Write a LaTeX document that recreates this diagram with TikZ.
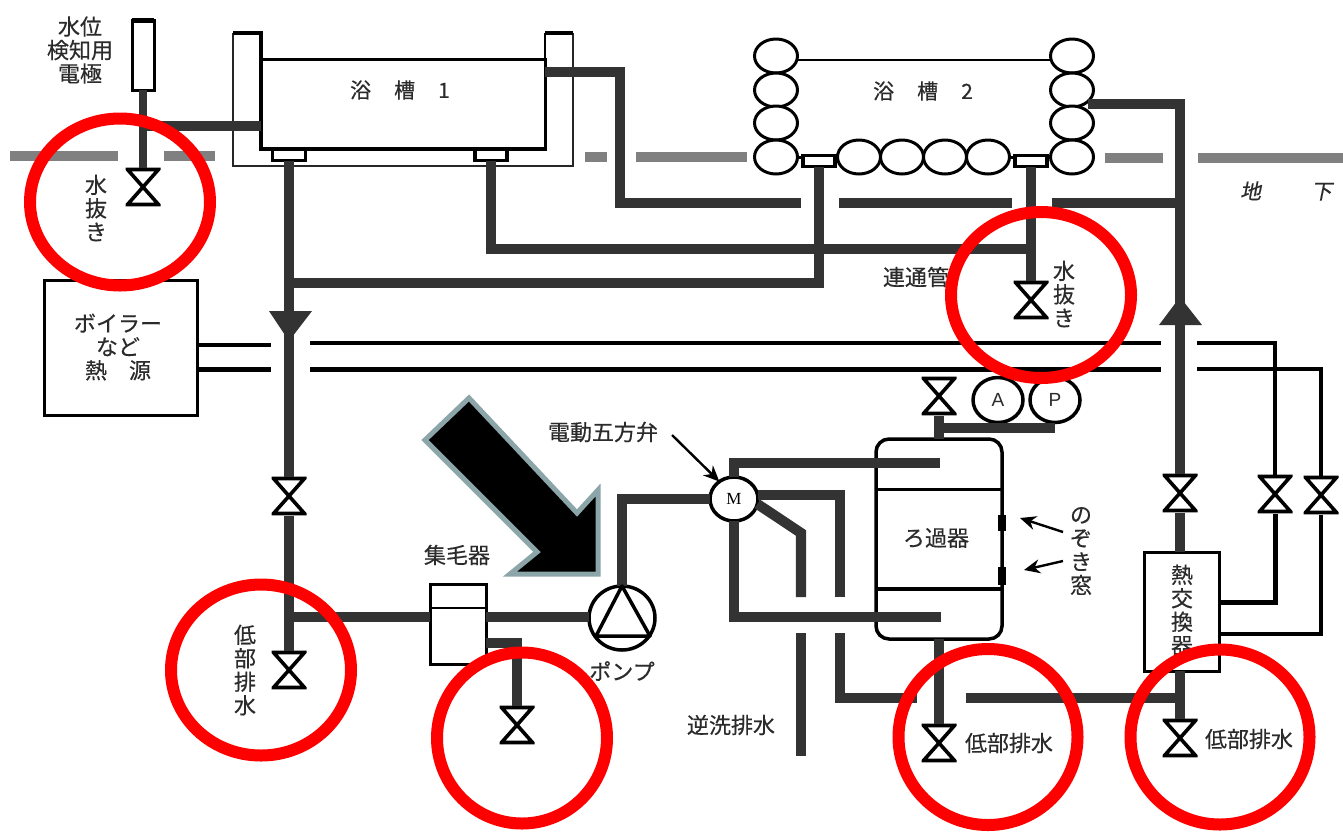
\documentclass[tikz,border=0pt]{standalone}
\usepackage{fontspec}
\setmainfont[FakeBold=0.4]{Noto Sans CJK JP}
\newfontfamily\slantcjk[FakeSlant=0.2,FakeBold=0.4]{Noto Sans CJK JP}
\newfontfamily\latinsans{Liberation Sans}
\newfontfamily\latinserif{Liberation Serif}
\usetikzlibrary{shapes.geometric,arrows.meta}
\definecolor{pipegray}{HTML}{333333}
\definecolor{groundgray}{HTML}{808080}
\definecolor{arrowedge}{HTML}{8CA5A8}
\definecolor{inkgray}{HTML}{2B2B2B}
\tikzset{
  every node/.append style={outer sep=0pt},
  pipe/.style={draw=pipegray,line width=10.2pt,line cap=butt,line join=miter},
  thinpipe/.style={pipe,line width=8.5pt},
  hotline/.style={draw=black,line width=3.5pt,line join=miter},
  hotlinethick/.style={draw=black,line width=5pt,line join=miter},
  ground/.style={draw=groundgray,line width=10pt},
  outline/.style={draw=black,line width=3pt,fill=white,inner sep=0pt},
  label/.style={font=\fontsize{22}{23.5}\selectfont,text=inkgray,inner sep=0pt,align=center},
  redring/.style={draw=red,line width=12pt,ellipse,inner sep=0pt,fill=none},
  ringcell/.style={ellipse,draw=black,line width=3pt,fill=white,minimum width=43pt,minimum height=34pt,inner sep=0pt},
  gauge/.style={ellipse,draw=black,line width=3.5pt,fill=white,minimum width=50pt,minimum height=45pt,inner sep=0pt},
  drainbox/.style={rectangle,draw=black,line width=3.5pt,fill=white,minimum width=32pt,minimum height=11pt,inner sep=0pt},
  valvebody/.style={minimum width=35pt,minimum height=39pt,inner sep=0pt,
    path picture={\draw[black,line width=3.6pt,line join=miter,fill=white]
      ([shift={(2,2)}]path picture bounding box.north west) --
      ([shift={(-2,2)}]path picture bounding box.north east) --
      ([shift={(2,-2)}]path picture bounding box.south west) --
      ([shift={(-2,-2)}]path picture bounding box.south east) -- cycle;}},
  leader/.style={draw=black,line width=2.4pt,-{Stealth[length=16pt,width=14pt]}},
  bigarrow/.style={draw=arrowedge,line width=5pt,fill=black,line join=miter},
  flowhead/.style={fill=pipegray,draw=none}
}
\begin{document}
\begin{tikzpicture}[x=1pt,y=-1pt]
\useasboundingbox (0,0) rectangle (1343,831);
\fill[white] (0,0) rectangle (1343,831);

% ground line
\foreach \a/\b/\yy in {10/118/156,164/215/156,585/607/157,636/747/157,1105/1163/158,1198/1343/158}
  \draw[ground] (\a,\yy) -- (\b,\yy);

% ---------- nodes ----------
\node[outline,minimum width=22pt,minimum height=70pt] (electrode) at (143,55) {};
\draw[black,line width=5pt] (electrode.north west) -- (electrode.north east);

% bath 1 frame and tank
\coordinate (frameTL) at (233,33);
\coordinate (frameBL) at (233,166);
\coordinate (frameBR) at (573,166);
\coordinate (frameTR) at (573,33);
\draw[draw=black!85,line width=2.5pt] (frameTL) -- (frameBL) -- (frameBR) -- (frameTR);
\node[draw=black,line width=3pt,minimum width=284pt,minimum height=90pt,inner sep=0pt] (tank1) at (403,104) {};
\coordinate (inL) at (261,33);
\coordinate (inR) at (545,33);
\draw[black,line width=4pt,line join=miter] (frameTL) -- (inL) -- (tank1.south west) -- (tank1.south east);
\draw[black,line width=4pt] (inR) -- (frameTR);
\draw[black,line width=2.5pt] (inR) -- (tank1.north east);
\node[drainbox,minimum width=33pt] (box1a) at (289,155) {};
\node[drainbox] (box1b) at (491,155) {};

% bath 2
\foreach \n/\yy in {1/56,2/90,3/123,4/157}{
  \node[ringcell] (L\n) at (776,\yy) {};
  \node[ringcell] (R\n) at (1072,\yy) {};
}
\foreach \n/\xx in {1/859,2/902,3/945,4/988}
  \node[ringcell] (B\n) at (\xx,157) {};
\draw[black,line width=2.8pt] (L1.east |- 0,60) -- (R1.west |- 0,60);
\draw[black,line width=3pt] (L4.east) -- (B1.west);
\draw[black,line width=3pt] (B4.east) -- (R4.west);
\node[drainbox] (box2a) at (819,161) {};
\node[drainbox] (box2b) at (1031,161) {};

% equipment
\node[outline,draw=black,minimum width=153pt,minimum height=135pt] (boiler) at (120.5,347.5) {};
\node[outline,minimum width=56pt,minimum height=80pt] (catcher) at (458,624) {};
\draw[black,line width=2.5pt] (catcher.west |- 0,608) -- (catcher.east |- 0,608);
\node[outline,minimum width=75pt,minimum height=119pt] (exchanger) at (1181.5,611.5) {};
\node[rectangle,rounded corners=13pt,draw=black,line width=3.5pt,minimum width=126pt,minimum height=200pt,inner sep=0pt] (filter) at (939,539) {};
\draw[black,line width=3pt] (filter.west |- 0,489) -- (filter.east |- 0,489);
\draw[black,line width=4pt] (filter.west |- 0,589) -- (filter.east |- 0,589);
\node[fill=black,minimum width=8pt,minimum height=16pt,inner sep=0pt] (win1) at (1002,523) {};
\node[fill=black,minimum width=8pt,minimum height=18pt,inner sep=0pt] (win2) at (1002,576) {};

% valves
\node[valvebody] (vDrainA) at (143,187) {};
\node[valvebody] (vDrainB) at (1031,300) {};
\node[valvebody] (vMain) at (289,496) {};
\node[valvebody] (vLowL) at (289,670) {};
\node[valvebody] (vCatch) at (517,725) {};
\node[valvebody] (vTop) at (939,396) {};
\node[valvebody] (vFilter) at (939,743) {};
\node[valvebody] (vRight) at (1180,493) {};
\node[valvebody] (vLowR) at (1180,738) {};
\node[valvebody] (vHotA) at (1275,494) {};
\node[valvebody] (vHotB) at (1321,495) {};

% rotating parts
\node[ellipse,draw=black,line width=3.5pt,fill=white,minimum width=66pt,minimum height=64pt,inner sep=0pt] (pump) at (622,618) {};
\node[gauge,minimum width=48pt,minimum height=44pt,font=\fontsize{17}{17}\latinserif\selectfont] (motor) at (734,499) {M};
\node[gauge,font=\fontsize{19}{19}\latinsans\selectfont,text=inkgray] (gaugeA) at (998,400) {A};
\node[gauge,font=\fontsize{19}{19}\latinsans\selectfont,text=inkgray] (gaugeP) at (1055,400) {P};

% ---------- pipes ----------
\draw[thinpipe] (electrode.south) -- (vDrainA.north);
\coordinate (elecTee) at (143,126);
\draw[pipe] (elecTee) -- (tank1.west |- elecTee);

\coordinate (overA) at (545,72);
\coordinate (overB) at (620,72);
\coordinate (overC) at (620,203);
\coordinate (overD) at (801,203);
\coordinate (overE) at (839,203);
\coordinate (overF) at (1012,203);
\coordinate (overG) at (1052,203);
\coordinate (riserTee) at (1180,203);
\draw[pipe] (overA) -- (overB) -- (overC) -- (overD);
\draw[pipe] (overE) -- (overF);
\draw[pipe] (overG) -- (riserTee);

\coordinate (mainTee) at (289,283);
\coordinate (link2) at (819,283);
\draw[pipe] (box1a.south) -- (vMain.north);
\draw[pipe] (mainTee) -- (link2) -- (box2a.south);

\coordinate (link1) at (491,249);
\coordinate (link1e) at (1031,249);
\draw[pipe] (box1b.south) -- (link1) -- (link1e);
\draw[pipe] (box2b.south) -- (vDrainB.north);

\coordinate (tank2out) at (1088,104);
\coordinate (riserTop) at (1180,104);
\draw[pipe] (tank2out) -- (riserTop) -- (vRight.north);
\draw[pipe] (vRight.south) -- (vRight.south |- exchanger.north);
\draw[pipe] (vLowR.north |- exchanger.south) -- (vLowR.north);

\coordinate (lowTee) at (289,617);
\draw[pipe] (vMain.south) -- (vLowL.north);
\draw[pipe] (lowTee) -- (catcher.west |- lowTee);
\draw[pipe] (catcher.east |- lowTee) -- (pump.west |- lowTee);
\coordinate (catchOut) at (517,643);
\draw[pipe] (catcher.east |- catchOut) -- (catchOut) -- (vCatch.north);

\coordinate (pumpBend) at (pump.north |- motor.west);
\draw[pipe] (pump.north) -- (pumpBend) -- (motor.west);

\coordinate (mTop) at (734,463);
\coordinate (mTopEnd) at (940,463);
\draw[pipe] (motor.north) -- (mTop) -- (mTopEnd);
\coordinate (mBot) at (734,617);
\coordinate (mBotEnd) at (941,617);
\draw[pipe] (motor.south) -- (mBot) -- (mBotEnd);

\coordinate (revA) at (840,495);
\coordinate (revB) at (840,597);
\coordinate (revC) at (840,633);
\coordinate (revD) at (840,698);
\coordinate (revE) at (917,698);
\coordinate (revF) at (966,698);
\coordinate (revG) at (1180,698);
\draw[pipe] (motor.east |- revA) -- (revA) -- (revB);
\draw[pipe] (revC) -- (revD) -- (revE);
\draw[pipe] (revF) -- (revG);

\coordinate (diagA) at (801,533);
\coordinate (diagB) at (801,597);
\coordinate (diagC) at (801,633);
\coordinate (diagD) at (801,756);
\draw[pipe] (motor.-12) -- (diagA) -- (diagB);
\draw[pipe] (diagC) -- (diagD);

\draw[pipe] (filter.north) -- (vTop.south);
\coordinate (gaugeTee) at (939,428);
\draw[pipe] (gaugeTee) -- (gaugeTee -| gaugeP);
\draw[pipe] (filter.south) -- (vFilter.north);

% flow arrowheads
\coordinate (downTip) at (289,341);
\fill[flowhead] (269,311) -- (312,311) -- (downTip) -- cycle;
\coordinate (upTip) at (1180,297);
\fill[flowhead] (1159,325) -- (1202,325) -- (upTip) -- cycle;

% hot water lines
\coordinate (hotA1) at (271,345);
\coordinate (hotB1) at (271,369);
\coordinate (hotA2) at (310,343);
\coordinate (hotA3) at (1161,343);
\coordinate (hotB2) at (310,369);
\coordinate (hotB3) at (1161,369);
\coordinate (hotA4) at (1197,343);
\coordinate (hotA5) at (1275,343);
\coordinate (hotB4) at (1197,369);
\coordinate (hotB5) at (1321,369);
\draw[hotline] (boiler.east |- hotA1) -- (hotA1);
\draw[hotlinethick] (boiler.east |- hotB1) -- (hotB1);
\draw[hotline] (hotA2) -- (hotA3);
\draw[hotlinethick] (hotB2) -- (hotB3);
\draw[hotline] (hotA4) -- (hotA5) -- (vHotA.north);
\draw[hotline] (hotB4) -- (hotB5) -- (vHotB.north);
\coordinate (retA) at (1275,602);
\coordinate (retB) at (1321,634);
\draw[hotlinethick] (vHotA.south) -- (retA) -- (exchanger.east |- retA);
\draw[hotline] (vHotB.south) -- (retB) -- (exchanger.east |- retB);

% pump triangle
\draw[black,line width=3.5pt,line join=round] (pump.north) -- (650,636) -- (596,636) -- cycle;

% leaders
\coordinate (leadM) at (672,435);
\draw[leader] (leadM) -- (motor.130);
\coordinate (leadW1) at (1063,532);
\coordinate (tipW1) at (1020,518);
\coordinate (leadW2) at (1063,561);
\coordinate (tipW2) at (1024,570);
\draw[leader] (leadW1) -- (tipW1);
\draw[leader] (leadW2) -- (tipW2);

% big arrow
\draw[bigarrow] (469,398) -- (577,513) -- (598,490) -- (598,574) -- (510,574) -- (537,552) -- (425,440) -- cycle;

% ---------- labels ----------
\node[label] (lblElec) at (80,50) {水位\\検知用\\電極};
\node[label] (lblDrainA) at (96,208) {水\\抜\\き};
\node[label,font=\fontsize{21}{23}\selectfont] (lblBath1) at (400,90) {浴\hspace{23pt}槽\hspace{23pt}1};
\node[label,font=\fontsize{21}{23}\selectfont] (lblBath2) at (923,91) {浴\hspace{23pt}槽\hspace{23pt}2};
\node[label,font=\fontsize{21}{23}\slantcjk\selectfont] (lblGround) at (1286,191) {地\hspace{50pt}下};
\node[label] (lblLink) at (916,277) {連通管};
\node[label] (lblDrainB) at (1064,294) {水\\抜\\き};
\node[label] (lblBoiler) at (118,347) {ボイラー\\など\\熱\hspace{22pt}源};
\node[label] (lblValve5) at (603,432) {電動五方弁};
\node[label] (lblCatcher) at (457,555) {集毛器};
\node[label] (lblPump) at (622,671) {ポンプ};
\node[label] (lblLowL) at (245,670) {低\\部\\排\\水};
\node[label] (lblFilter) at (936,538) {ろ過器};
\node[label] (lblWindow) at (1081,551) {の\\ぞ\\き\\窓};
\node[label] (lblExch) at (1182,610) {熱\\交\\換\\器};
\node[label] (lblBack) at (731,725) {逆洗排水};
\node[label] (lblLowF) at (1009,743) {低部排水};
\node[label] (lblLowR) at (1249,739) {低部排水};

% ---------- red rings ----------
\node[redring,minimum width=180pt,minimum height=167pt] (ring1) at (120,202) {};
\node[redring,minimum width=180pt,minimum height=166pt] (ring2) at (1041,295) {};
\node[redring,minimum width=180pt,minimum height=171pt] (ring3) at (261,670) {};
\node[redring,minimum width=170pt,minimum height=171pt] (ring4) at (522,738) {};
\node[redring,minimum width=179pt,minimum height=176pt] (ring5) at (988,737) {};
\node[redring,minimum width=179pt,minimum height=175pt] (ring6) at (1220,737) {};
\end{tikzpicture}
\end{document}
